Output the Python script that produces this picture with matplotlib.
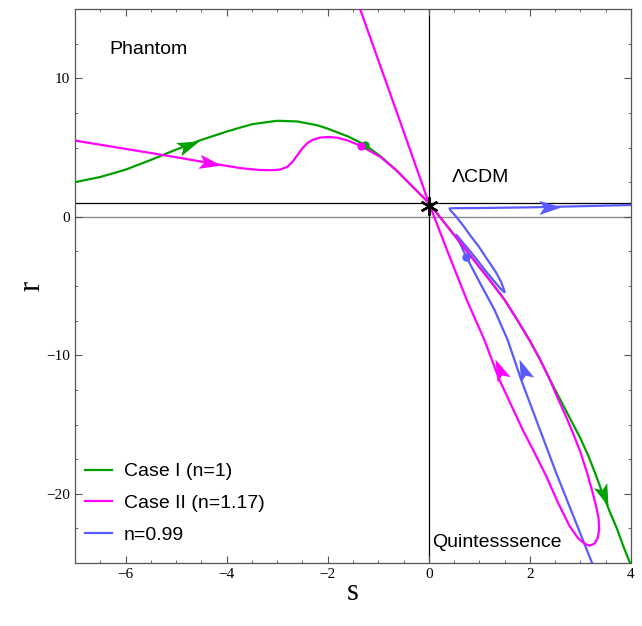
import matplotlib
matplotlib.use("Agg")
import matplotlib.pyplot as plt
from matplotlib.path import Path
from matplotlib.markers import MarkerStyle
from matplotlib.transforms import Affine2D
from matplotlib.ticker import MultipleLocator
import numpy as np

# trajectories in the (s, r) plane
case1_s = [-7.0, -6.5, -6.0, -5.5, -5.0, -4.5, -4.0, -3.5, -3.0, -2.6, -2.2, -2.0,
           -1.6, -1.26, -0.95, -0.65, -0.32, 0.0, 0.4, 0.8, 1.2, 1.5, 1.75, 1.99,
           2.2, 2.4, 2.6, 2.8, 3.0, 3.16, 3.3, 3.44, 3.58, 3.72, 3.85, 3.98]
case1_r = [2.5, 2.87, 3.4, 4.1, 4.85, 5.55, 6.15, 6.68, 6.93, 6.88, 6.6, 6.36,
           5.8, 5.18, 4.35, 3.38, 2.17, 1.0, -0.85, -2.7, -4.55, -6.0, -7.45, -8.9,
           -10.3, -11.8, -13.2, -14.6, -16.0, -17.3, -18.6, -20.0, -21.3, -22.5, -23.8, -25.0]

case2_s = [-7.0, -6.5, -6.0, -5.5, -5.0, -4.5, -4.11, -3.7, -3.36, -3.1, -2.95, -2.8,
           -2.7, -2.6, -2.5, -2.4, -2.3, -2.15, -1.97, -1.8, -1.6, -1.34, -0.95, -0.65,
           -0.32, 0.0,
           0.4, 0.8, 1.2, 1.5, 1.75, 1.99, 2.2, 2.4, 2.55, 2.7, 2.85, 3.0, 3.14, 3.24,
           3.31, 3.36, 3.37, 3.34, 3.28, 3.18, 3.08, 2.95, 2.78, 2.55, 2.32, 2.1, 1.86,
           1.63, 1.4, 1.1, 0.75, 0.37, 0.0, -0.58, -1.36]
case2_r = [5.5, 5.2, 4.9, 4.6, 4.3, 3.98, 3.74, 3.5, 3.38, 3.36, 3.4, 3.6,
           3.95, 4.45, 4.95, 5.32, 5.55, 5.72, 5.76, 5.7, 5.5, 5.11, 4.3, 3.38,
           2.17, 1.0,
           -0.85, -2.7, -4.55, -6.0, -7.45, -8.9, -10.3, -11.8, -13.1, -14.3, -15.6, -17.0, -18.6, -19.9,
           -20.9, -21.8, -22.6, -23.2, -23.6, -23.75, -23.6, -23.2, -22.3, -20.6, -18.7, -17.1, -15.4,
           -13.6, -11.8, -8.9, -6.0, -2.5, 1.0, 7.0, 15.0]

n099_s = [3.23, 2.52, 1.83, 1.56, 1.3, 1.0, 0.74, 0.62, 0.54, 0.6, 0.75, 0.92, 1.1,
          1.28, 1.42, 1.5, 1.48, 1.43, 1.32, 1.15, 0.99, 0.82, 0.67, 0.52, 0.43, 0.41,
          0.5, 1.0, 2.0, 3.0, 4.0]
n099_r = [-25.0, -18.5, -11.8, -8.9, -6.73, -4.7, -2.88, -1.95, -1.31, -1.55, -2.2, -2.95, -3.8,
          -4.6, -5.2, -5.45, -5.2, -4.7, -3.96, -3.05, -2.16, -1.35, -0.59, 0.1, 0.45, 0.6,
          0.62, 0.63, 0.68, 0.76, 0.85]

green = "#00a000"
magenta = "#ff00ff"
blue = "#5a5aff"

# arrowheads: (tip s, tip r, tail s, tail r)
arrows_case1 = [(-4.55, 5.5, -5.0, 4.85), (3.54, -20.9, 3.3, -18.6)]
arrows_case2 = [(-4.11, 3.74, -4.5, 3.98), (1.30, -10.3, 1.45, -11.6)]
arrows_n099 = [(1.79, -10.3, 1.93, -11.6), (2.61, 0.72, 2.0, 0.68)]

# fixed-point markers on each trajectory
dots = [(-1.26, 5.18, green), (-1.34, 5.11, magenta), (0.74, -2.88, blue)]

plt.rcParams["font.family"] = ["Liberation Sans", "DejaVu Sans"]

fig = plt.figure(figsize=(6.42, 6.26), dpi=100)
ax = fig.add_axes([75 / 642, 63 / 626, 556 / 642, 554 / 626])
ax.set_xlim(-7, 4)
ax.set_ylim(-25, 15)

ax.axhline(0, color="#8c8c8c", lw=1.0, zorder=1)
ax.axhline(1, color="black", lw=0.9, zorder=1)
ax.axvline(0, color="black", lw=0.9, zorder=1)

lw = 1.6
ax.plot(case1_s, case1_r, color=green, lw=lw, label="Case I (n=1)", zorder=3)
ax.plot(case2_s, case2_r, color=magenta, lw=lw, label="Case II (n=1.17)", zorder=4)
ax.plot(n099_s, n099_r, color=blue, lw=lw, label="n=0.99", zorder=3)

head = Path([(0, 0), (-1, 0.32), (-0.78, 0), (-1, -0.32), (0, 0)],
            [Path.MOVETO, Path.LINETO, Path.LINETO, Path.LINETO, Path.CLOSEPOLY])


def draw_heads(items, color):
    for ts, tr, fs, fr in items:
        p1 = ax.transData.transform((fs, fr))
        p2 = ax.transData.transform((ts, tr))
        ang = np.degrees(np.arctan2(p2[1] - p1[1], p2[0] - p1[0]))
        m = MarkerStyle(head, transform=Affine2D().rotate_deg(ang))
        ax.plot(ts, tr, marker=m, ms=32, color=color, mec=color, mew=0, zorder=5)


draw_heads(arrows_case1, green)
draw_heads(arrows_case2, magenta)
draw_heads(arrows_n099, blue)

for s, r, c in dots:
    ax.plot(s, r, "o", ms=6, color=c, mew=0, zorder=6)

ax.plot(0, 0.75, marker=(6, 2, 0), ms=13, color="black", mew=1.7, zorder=7)

ax.text(-6.32, 12.1, "Phantom", fontsize=14, va="center", ha="left")
ax.text(0.45, 2.87, "ΛCDM", fontsize=14, va="center", ha="left")
ax.text(0.07, -23.55, "Quintesssence", fontsize=14, va="center", ha="left")

leg = ax.legend(loc="lower left", bbox_to_anchor=(0.018, 0.035), frameon=False,
                fontsize=14, handlelength=1.4, handletextpad=0.6, labelspacing=0.72,
                borderpad=0, borderaxespad=0)

ax.xaxis.set_major_locator(MultipleLocator(2))
ax.xaxis.set_minor_locator(MultipleLocator(0.5))
ax.yaxis.set_major_locator(MultipleLocator(10))
ax.yaxis.set_minor_locator(MultipleLocator(2.5))
ax.tick_params(which="both", direction="in", top=True, right=True, color="#555555",
               labelsize=11, labelfontfamily="Liberation Serif")
ax.tick_params(which="major", length=5, width=0.8)
ax.tick_params(which="minor", length=2.5, width=0.6)
for sp in ax.spines.values():
    sp.set_color("#555555")
    sp.set_linewidth(0.9)

ax.set_xlabel("s", fontsize=22, family="Liberation Serif", labelpad=-2)
ax.set_ylabel("r", fontsize=22, family="Liberation Serif", labelpad=0, rotation=90)

fig.savefig("out.png", dpi=100)
